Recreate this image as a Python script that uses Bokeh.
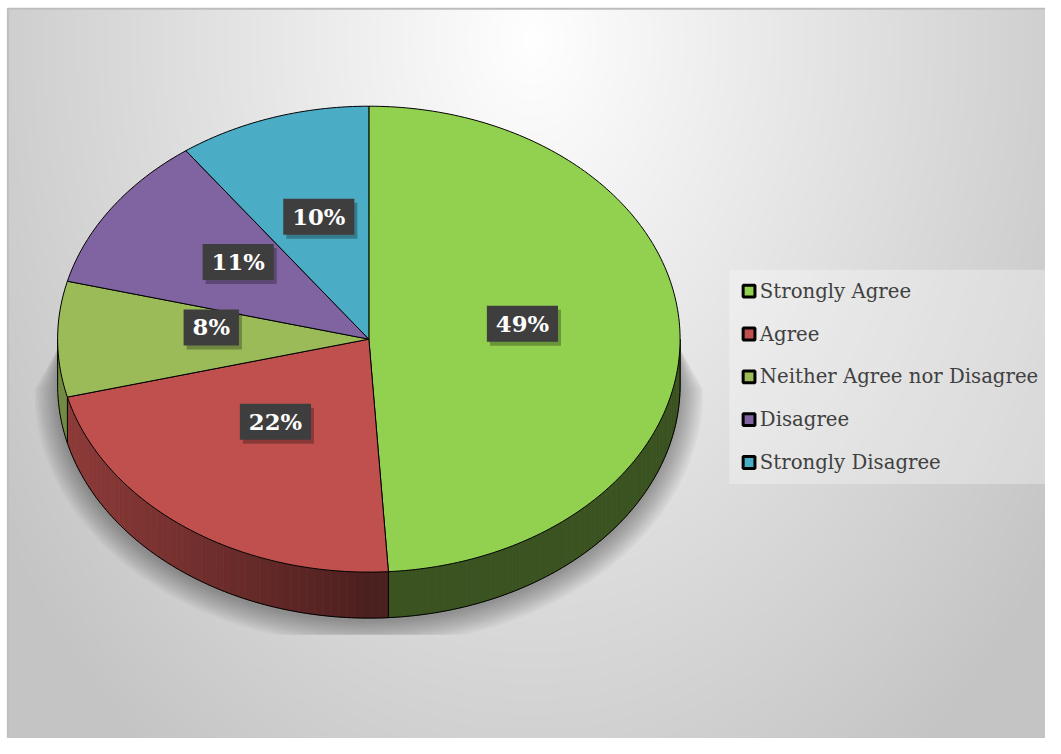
import numpy as np
from bokeh.plotting import figure
from bokeh.models import Range1d, ColumnDataSource
from bokeh.embed import file_html
from bokeh.resources import INLINE
from bokeh.core.properties import value

# ---------------- data ----------------
categories = ["Strongly Agree", "Agree", "Neither Agree nor Disagree", "Disagree", "Strongly Disagree"]
percents = [49, 22, 8, 11, 10]
labels = ["49%", "22%", "8%", "11%", "10%"]
colors = ["#92d050", "#c0504d", "#9bbb59", "#8064a2", "#4bacc6"]

# ---------------- figure ----------------
# data space = reference pixel space (1061 x 754), drawn into a 1045 x 738 figure
RW, RH = 1061.0, 754.0
W, H = 1045, 738
S = W / RW
p = figure(width=W, height=H, x_range=Range1d(0, RW), y_range=Range1d(RH, 0),
           output_backend="svg", toolbar_location=None, min_border=0,
           x_axis_location=None, y_axis_location=None)
p.grid.visible = False
p.outline_line_color = None
p.background_fill_color = "#ffffff"
p.border_fill_color = "#ffffff"

# background: elliptical radial gradient, light near the top centre (style only)
BX0, BY0 = 8.0, 9.0
nr, nc = 377, 527
ys = BY0 + (np.arange(nr) + 0.5) * (RH - BY0) / nr
xs = BX0 + (np.arange(nc) + 0.5) * (RW - BX0) / nc
XX, YY = np.meshgrid(xs, ys)
rr = np.sqrt(((XX - 540) / 530.0) ** 2 + ((YY - 40) / 753.0) ** 2)
g = np.clip(255 - 48 * rr, 196, 255).astype(np.uint8)
img = np.empty((nr, nc), dtype=np.uint32)
view = img.view(dtype=np.uint8).reshape((nr, nc, 4))
view[:, :, 0] = g
view[:, :, 1] = g
view[:, :, 2] = g
view[:, :, 3] = 255
p.image_rgba(image=[img], x=BX0, y=BY0, dw=RW - BX0, dh=RH - BY0)

# chart border (top / left)
p.line([7, RW], [8.5, 8.5], line_color="#bdbdbd", line_width=2)
p.line([7.5, 7.5], [8, RH], line_color="#bdbdbd", line_width=2)

# ---------------- pie geometry ----------------
CX, CY, RX, RY, DEPTH = 374.0, 346.0, 316.0, 238.0, 47.0
vals = np.array(percents, float)
frac = vals / vals.sum()
ends = np.cumsum(frac) * 2 * np.pi
starts = ends - frac * 2 * np.pi


def ex(t):
    return CX + RX * np.sin(t)


def ey(t):
    return CY - RY * np.cos(t)


# soft shadow under / around the pie (tapers from the pie's equator), clipped to plot area
tl = np.linspace(np.pi / 2, 3 * np.pi / 2, 160)
for gk in range(24, -1, -2):
    sx = CX + (RX + gk) * np.sin(tl)
    sy = CY + DEPTH + 4 - (RY + gk) * np.cos(tl)
    sx = np.concatenate([[CX + RX - 2], sx, [CX - RX + 2]])
    sy = np.concatenate([[CY + 6], sy, [CY + 6]])
    sx = np.clip(sx, 35, 713)
    sy = np.minimum(sy, 648)
    p.patch(sx, sy, fill_color="black", fill_alpha=0.026, line_color=None)


def hex_to_rgb(h):
    h = h.lstrip("#")
    return [int(h[i:i + 2], 16) for i in (0, 2, 4)]


# side walls
side_xs, side_ys, side_cols = [], [], []
for s, e, c in zip(starts, ends, colors):
    a, b = max(s, np.pi / 2), min(e, 3 * np.pi / 2)
    if a >= b:
        continue
    n = max(2, int(np.ceil((b - a) / np.radians(1.5))))
    ts = np.linspace(a, b, n + 1)
    rgb = np.array(hex_to_rgb(c), float)
    for t0, t1 in zip(ts[:-1], ts[1:]):
        tm = 0.5 * (t0 + t1)
        f = 0.4 + 0.35 * max(0.0, -np.sin(tm))
        cc = np.clip(rgb * f, 0, 255).astype(int)
        side_cols.append("#%02x%02x%02x" % tuple(cc))
        side_xs.append([ex(t0), ex(t1), ex(t1), ex(t0)])
        side_ys.append([ey(t0), ey(t1), ey(t1) + DEPTH, ey(t0) + DEPTH])
p.patches(xs=side_xs, ys=side_ys, fill_color=side_cols, line_color=side_cols, line_width=0.6)

# side outlines
tb = np.linspace(np.pi / 2, 3 * np.pi / 2, 200)
p.line(ex(tb), ey(tb) + DEPTH, line_color="black", line_width=1)
for t in [np.pi / 2, 3 * np.pi / 2] + [e for e in ends[:-1] if np.pi / 2 < e < 3 * np.pi / 2]:
    p.line([ex(t), ex(t)], [ey(t), ey(t) + DEPTH], line_color="black", line_width=1)

# top faces
top_xs, top_ys = [], []
for s, e in zip(starts, ends):
    n = max(3, int(np.ceil((e - s) / np.radians(1.0))))
    ts = np.linspace(s, e, n + 1)
    top_xs.append([CX] + list(ex(ts)))
    top_ys.append([CY] + list(ey(ts)))
p.patches(xs=top_xs, ys=top_ys, fill_color=colors, line_color="black", line_width=1,
          line_join="round")

# ---------------- data labels ----------------
mids = 0.5 * (starts + ends)
lx = CX + 0.5 * RX * np.sin(mids) - 2
ly = CY - 0.5 * RY * np.cos(mids) - 12
lsrc = ColumnDataSource(dict(x=lx, y=ly, text=labels))
LFS = "%.1fpx" % (23 * S)
p.text(x="x", y="y", text="text", source=lsrc, text_alpha=0.0,
       text_font=value("DejaVu Serif"), text_font_style="bold", text_font_size=LFS,
       text_align="center", text_baseline="middle", x_offset=3, y_offset=4,
       background_fill_color="black", background_fill_alpha=0.28, padding=(9, 5))
p.text(x="x", y="y", text="text", source=lsrc, text_color="white",
       text_font=value("DejaVu Serif"), text_font_style="bold", text_font_size=LFS,
       text_align="center", text_baseline="middle",
       background_fill_color="#3e3e3e", background_fill_alpha=1.0, padding=(9, 5))

# ---------------- legend ----------------
LX0, LY0, LDY = 760.0, 297.0, 43.75
leg_y = LY0 + LDY * np.arange(len(categories))
p.quad(left=[740], right=[RW], top=[275], bottom=[494], fill_color="white",
       fill_alpha=0.3, line_color=None)
legsrc = ColumnDataSource(dict(x=[LX0] * len(categories), y=leg_y, c=colors, t=categories,
                               tx=[LX0 + 11] * len(categories)))
p.scatter(x="x", y="y", source=legsrc, marker="square", size=12 * S, fill_color="c",
          line_color="black", line_width=3)
p.text(x="tx", y="y", text="t", source=legsrc, text_color="#404040",
       text_font=value("DejaVu Serif"), text_font_size="%.1fpx" % (20 * S), text_align="left",
       text_baseline="middle")

open("out.html", "w").write(file_html(p, INLINE))
